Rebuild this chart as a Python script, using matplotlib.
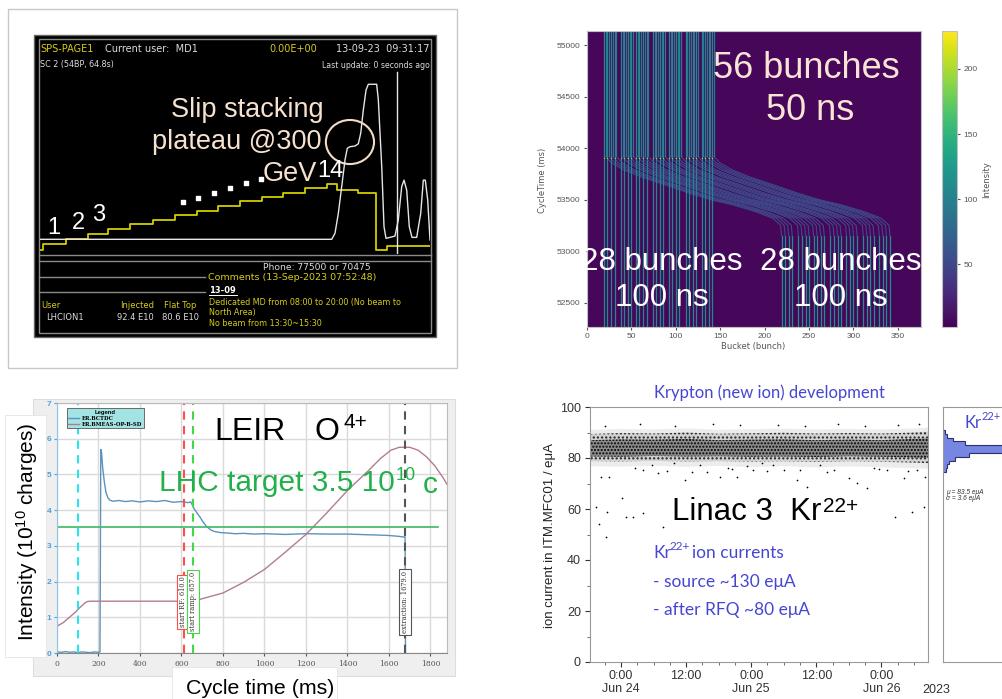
import numpy as np
import matplotlib
matplotlib.use('Agg')
import matplotlib.pyplot as plt
from matplotlib.patches import Rectangle, Ellipse
from matplotlib import cm, colors

plt.rcParams['font.family'] = ['Liberation Sans', 'DejaVu Sans']
plt.rcParams['mathtext.fontset'] = 'custom'
plt.rcParams['mathtext.rm'] = 'Liberation Sans'
plt.rcParams['mathtext.it'] = 'Liberation Sans:italic'

W, H = 1003, 699

# --- SPS page 1: intensity staircase (E10 charges) and momentum (GeV/c)
sps_t = [0, 0.55, 4.27, 8.03, 11.35, 14.95, 18.73, 22.43, 26.04, 29.63, 33.23,
         36.84, 40.43, 44.03, 47.64, 49.3, 52.89, 55.83, 57.6, 64.8]
sps_int = [5.3, 12.9, 19.5, 26.1, 32.8, 39.4, 45.1, 51.7, 57.0, 63.6, 70.3,
           76.0, 81.3, 87.1, 92.4, 84.9, 81.3, 5.3, 11.0, 11.0]
mom_t = [0, 48.47, 49.02, 49.57, 50.13, 50.68, 51.06, 51.51, 52.34, 52.89, 53.29,
         53.72, 54.17, 54.55, 55.94, 56.21, 56.78, 57.16, 57.49, 58.15, 58.98,
         59.53, 60.10, 60.48, 60.93, 61.36, 61.81, 62.59, 63.26, 63.69, 64.02,
         64.42, 64.8]
mom_p = [14, 14, 33, 95, 178, 261, 297, 302, 304, 311, 344, 416, 478, 496, 496,
         449, 240, 53, 17, 20, 24, 74, 178, 198, 167, 53, 20, 20, 95, 198, 198,
         136, 12]
dots_t = [23.76, 26.25, 28.91, 31.57, 34.23, 36.72]
dots_v = [69.0, 74.3, 80.9, 87.5, 94.1, 99.5]
plateau_t, plateau_p = 51.5, 316.5
scope_line_t = 59.3

# --- slip stacking heatmap
group_start = [19, 38, 55, 74, 92, 111, 129]
bunch_offset = [0, 4, 8, 12]
slip_t = [52264, 53150, 53250, 53320, 53380, 53450, 53500, 53560, 53640, 53720,
          53790, 53860, 53920, 55136]
slip_shift = [200, 200, 199, 190, 172, 145, 120, 97, 70, 42, 22, 8, 2, 2]

# --- LEIR O4+ cycle
bct_t = [0, 20, 40, 60, 80, 100, 120, 140, 160, 180, 200, 207, 209, 211, 215,
         220, 228, 236, 245, 255, 270, 300, 330, 360, 400, 440, 480, 520, 560,
         600, 630, 645, 652, 660, 675, 690, 705, 720, 740, 760, 790, 820, 860,
         900, 950, 1000, 1100, 1200, 1300, 1400, 1500, 1560, 1600, 1640, 1670,
         1678, 1680]
bct_v = [0.03, 0.02, 0.04, 0.02, 0.03, 0.01, 0.03, 0.02, 0.01, 0.03, 0.02, 0.03,
         2.5, 5.7, 5.6, 5.2, 4.8, 4.5, 4.35, 4.28, 4.25, 4.27, 4.24, 4.26, 4.23,
         4.26, 4.24, 4.27, 4.22, 4.24, 4.21, 4.23, 4.15, 4.05, 3.92, 3.8, 3.66,
         3.55, 3.45, 3.40, 3.37, 3.36, 3.34, 3.35, 3.33, 3.34, 3.32, 3.34, 3.33,
         3.33, 3.31, 3.30, 3.29, 3.27, 3.25, 3.24, 0.0]
bmeas_t = [0, 30, 60, 90, 110, 130, 145, 160, 200, 400, 600, 657, 700, 800, 900,
           1000, 1100, 1200, 1300, 1400, 1500, 1560, 1610, 1650, 1700, 1740,
           1780, 1820, 1860, 1880]
bmeas_v = [0.75, 0.85, 1.0, 1.15, 1.27, 1.38, 1.44, 1.45, 1.45, 1.45, 1.45, 1.45,
           1.52, 1.68, 1.98, 2.34, 2.82, 3.32, 3.92, 4.55, 5.1, 5.45, 5.68, 5.76,
           5.76, 5.68, 5.5, 5.25, 4.92, 4.72]
lhc_target = 3.52
markers_t = [100, 610, 657, 1679]
marker_labels = ['', 'start RF: 610.0', 'start ramp: 657.0', 'extraction: 1679.0']

# --- Linac 3 Kr22+ current (hours from Jun 24 0:00)
band_h = [-5.72, 0, 6, 12, 18, 24, 30, 36, 42, 48, 54, 56.6]
core_lo = [80.6, 80.5, 80.8, 80.6, 80.7, 80.5, 80.6, 80.4, 80.7, 80.5, 80.2, 80.0]
core_hi = [87.0, 87.3, 87.2, 87.5, 87.0, 87.2, 87.3, 87.0, 87.2, 87.0, 87.5, 87.8]
outer_lo = [78.8, 78.6, 78.9, 78.6, 78.8, 78.5, 78.7, 78.4, 78.7, 78.5, 78.2, 78.0]
outer_hi = [89.4, 89.8, 89.6, 90.0, 89.5, 89.7, 89.9, 89.6, 89.8, 89.6, 90.0, 90.3]
halo_lo = [76.8, 76.6, 77.0, 76.5, 76.9, 76.4, 76.8, 76.3, 76.7, 76.4, 76.0, 75.8]
halo_hi = [91.0, 91.4, 91.2, 91.6, 91.1, 91.3, 91.5, 91.2, 91.4, 91.2, 91.6, 91.9]
out_h = [-4.6, -4.0, -2.8, -2.5, -3.6, -2.3, 0.1, 1.0, 2.3, 4.1, 7.8, 2.6, 4.1, 5.7,
         6.9, 9.7, 11.8, 14.6, 15.8, 18.3, 19.8, 21.4, 23.2, 24.4, 26.0, 28.1,
         30.0, 32.4, 34.3, 36.7, 39.2, 42.0, 43.5, 45.4, 46.6, 49.0, 50.6, 52.1,
         53.7, 54.6, 55.8, 56.1, -3.0, 3.5, 10.0, 17.0, 22.0, 29.0, 34.0, 40.0,
         45.0, 51.0, 55.0, 8.5, 13.0, 20.5, 27.0, 33.0, 38.0, 47.5, 53.0]
out_v = [60.9, 54.1, 49.1, 59.0, 72.7, 72.7, 64.2, 57.0, 57.0, 58.3, 53.1, 76.0,
         75.4, 77.3, 74.0, 78.0, 71.4, 77.3, 74.7, 72.7, 76.0, 72.7, 76.7, 75.4,
         78.0, 77.3, 75.4, 71.4, 68.8, 77.3, 75.4, 72.1, 70.1, 68.2, 76.0, 75.4,
         57.0, 72.1, 59.0, 75.4, 60.9, 72.7, 92.5, 93.2, 92.6, 93.4, 92.8, 93.0,
         92.6, 93.3, 92.7, 92.9, 93.5, 75.0, 74.5, 75.6, 74.8, 75.2, 74.4, 75.5,
         74.9]
hist_edges = [74.5, 76, 77.5, 79, 80.5, 82, 83.5, 85, 86.5, 88, 89.5, 91]
hist_counts = [3, 4, 6, 12, 26, 72, 68, 22, 10, 4, 2]


def px_box(x0, y0, x1, y1):
    return [x0 / W, 1 - y1 / H, (x1 - x0) / W, (y1 - y0) / H]


fig = plt.figure(figsize=(W / 100, H / 100), dpi=100)
under = fig.add_axes([0, 0, 1, 1], zorder=0)
under.set_xlim(0, W)
under.set_ylim(H, 0)
under.axis('off')
over = fig.add_axes([0, 0, 1, 1], zorder=20)
over.set_xlim(0, W)
over.set_ylim(H, 0)
over.axis('off')

# ================= panel 1: SPS page =================
under.add_patch(Rectangle((8, 9), 449, 359, fc='white', ec='#c8c8c8', lw=1))
under.add_patch(Rectangle((34, 35), 402, 302, fc='black', ec='#666666', lw=1, zorder=2))
under.add_patch(Rectangle((39, 39), 392, 294, fc='none', ec='#8a8a8a', lw=1, zorder=3))
for yy in [254.5, 261]:
    under.plot([39, 431], [yy, yy], color='#8a8a8a', lw=1, zorder=3)
for yy in [276.5, 291.5]:
    under.plot([39, 205], [yy, yy], color='#8a8a8a', lw=1, zorder=3)

sps = fig.add_axes(px_box(40, 70, 430, 254), zorder=5)
sps.axis('off')
sps.set_xlim(0, 64.8)
sps.set_ylim(0, 244)
sps.plot(sps_t, sps_int, drawstyle='steps-post', color='#d2cc00', lw=1.3)
sps.scatter(dots_t, dots_v, marker='s', s=9, color='white', zorder=5)

spm = fig.add_axes(px_box(40, 70, 430, 254), zorder=6)
spm.axis('off')
spm.set_xlim(0, 64.8)
spm.set_ylim(-31.7, 540.4)
spm.plot(mom_t, mom_p, color='#e6e6e6', lw=1.0)
spm.axvline(scope_line_t, ymin=0, ymax=0.99, color='#e6e6e6', lw=1.0)
spm.add_patch(Ellipse((plateau_t, plateau_p), 8.0, 137, fc='none', ec='#f3dcc6', lw=1.5))

yel = '#d6cc1a'
gry = '#dcdcdc'
mono = 'DejaVu Sans'
over.text(40, 49, 'SPS-PAGE1', color=yel, fontsize=7, family=mono, va='center')
over.text(105, 49, 'Current user:  MD1', color=gry, fontsize=7, family=mono, va='center')
over.text(269, 49, '0.00E+00', color=yel, fontsize=7, family=mono, va='center')
over.text(430, 49, '13-09-23  09:31:17', color=gry, fontsize=7, family=mono,
          va='center', ha='right')
over.text(40, 65, 'SC 2 (54BP, 64.8s)', color=gry, fontsize=5.8, family=mono, va='center')
over.text(430, 65, 'Last update: 0 seconds ago', color=gry, fontsize=5.6, family=mono,
          va='center', ha='right')
over.text(317, 267, 'Phone: 77500 or 70475', color=gry, fontsize=6.6, family=mono,
          va='center', ha='center')
over.text(208, 278, 'Comments (13-Sep-2023 07:52:48)', color=yel, fontsize=6.8,
          family=mono, va='center')
over.text(209, 290.5, '13-09', color='white', fontsize=6, family=mono, va='center',
          weight='bold')
over.plot([209, 237], [295, 295], color='white', lw=0.7)
for yy, s in [(302, 'Dedicated MD from 08:00 to 20:00 (No beam to'),
              (312.5, 'North Area)'), (323, 'No beam from 13:30~15:30')]:
    over.text(209, yy, s, color=yel, fontsize=5.8, family=mono, va='center')
over.text(41, 306, 'User', color=yel, fontsize=6, family=mono, va='center')
over.text(120, 306, 'Injected', color=yel, fontsize=6, family=mono, va='center')
over.text(164, 306, 'Flat Top', color=yel, fontsize=6, family=mono, va='center')
over.text(46, 318, 'LHCION1', color=gry, fontsize=6, family=mono, va='center')
over.text(117, 318, '92.4 E10', color=gry, fontsize=6, family=mono, va='center')
over.text(162, 318, '80.6 E10', color=gry, fontsize=6, family=mono, va='center')

cream = '#f6e2cf'
over.text(247, 110, 'Slip stacking', color=cream, fontsize=19.5, ha='center', va='center')
over.text(237, 142, 'plateau @300', color=cream, fontsize=19.5, ha='center', va='center')
over.text(290, 174, 'GeV', color=cream, fontsize=19.5, ha='center', va='center')
over.text(330, 171, '14', color='white', fontsize=17, ha='center', va='center')
for xx, yy, s in [(54, 228, '1'), (78, 223, '2'), (99, 215, '3')]:
    over.text(xx, yy, s, color='white', fontsize=17, ha='center', va='center')

# ================= panel 2: slip stacking heatmap =================
cmap = plt.get_cmap('viridis')
norm = colors.Normalize(2, 229)
hm = fig.add_axes(px_box(587, 31, 921, 327), zorder=5)
hm.set_facecolor(cmap(norm(6)))
hm.set_xlim(0, 376)
hm.set_ylim(52264, 55136)
bunch_x0 = [g + b for g in group_start for b in bunch_offset]
for x0 in bunch_x0:
    hm.plot([x0, x0], [52264, 55136], color=cmap(norm(108)), lw=0.9)
    xs = [x0 + s for s in slip_shift]
    hm.plot(xs[:2], slip_t[:2], color=cmap(norm(112)), lw=0.9)
    hm.plot(xs[1:13], slip_t[1:13], color=cmap(norm(52)), lw=0.8)
    hm.plot(xs[12:], slip_t[12:], color=cmap(norm(92)), lw=0.9)
hm.scatter(bunch_x0, [53905] * len(bunch_x0), s=0.8, color=cmap(norm(200)), lw=0,
           zorder=5)
hm.set_xticks(range(0, 351, 50))
hm.set_yticks(range(52500, 55001, 500))
hm.tick_params(labelsize=6, colors='#555555', length=2.5, pad=2)
for sp in hm.spines.values():
    sp.set_color('#c0c0c0')
cax = fig.add_axes(px_box(942, 31, 957, 327), zorder=5)
cb = fig.colorbar(cm.ScalarMappable(norm=norm, cmap=cmap), cax=cax)
cb.set_ticks([50, 100, 150, 200])
cb.ax.tick_params(labelsize=6, colors='#555555', length=2.5, pad=2)
cb.outline.set_edgecolor('#c0c0c0')
over.text(987, 180, 'Intensity', rotation=90, fontsize=6, color='#555555',
          family='DejaVu Sans', ha='center', va='center')
over.text(543, 180, 'CycleTime (ms)', rotation=90, fontsize=6, color='#555555',
          family='DejaVu Sans', ha='center', va='center')
over.text(753, 347, 'Bucket (bunch)', fontsize=6, color='#555555',
          family='DejaVu Sans', ha='center', va='center')
over.text(806, 68, '56 bunches', color='#f8e4d4', fontsize=26, ha='center', va='center')
over.text(810, 110, '50 ns', color='#f8e4d4', fontsize=26, ha='center', va='center')
for xx in [662, 841]:
    over.text(xx, 262, '28 bunches', color='white', fontsize=22.5, ha='center', va='center')
    over.text(xx, 298, '100 ns', color='white', fontsize=22.5, ha='center', va='center')

# ================= panel 3: LEIR =================
under.add_patch(Rectangle((33, 399), 422, 277, fc='#efefef', ec='#dddddd', lw=0.8, zorder=1))
under.add_patch(Rectangle((5, 415), 41, 242, fc='white', ec='#e4e4e4', lw=0.6, zorder=2))
under.add_patch(Rectangle((172, 667), 165, 32, fc='white', ec='#e4e4e4', lw=0.6, zorder=2))

leir = fig.add_axes(px_box(57, 403, 447, 653), zorder=5)
leir.set_facecolor('white')
leir.set_xlim(0, 1880)
leir.set_ylim(0, 7)
leir.grid(True, color='#dadada', lw=1.0)
leir.set_axisbelow(True)
leir.set_xticks(range(0, 1801, 200))
leir.set_yticks(range(0, 8))
leir.tick_params(axis='x', labelsize=5.5, colors='#555555', length=2, pad=3)
leir.tick_params(axis='y', labelsize=6, colors='#4a9fdc', length=2, pad=2)
for lab in leir.get_xticklabels():
    lab.set_family('DejaVu Serif')
for lab in leir.get_yticklabels():
    lab.set_weight('bold')
leir.spines['left'].set_color('#8cc6ea')
leir.spines['bottom'].set_color('#888888')
leir.spines['top'].set_color('#bbbbbb')
leir.spines['right'].set_color('#bbbbbb')
bct_line, = leir.plot(bct_t, bct_v, color='#5b93bd', lw=1.0)
bm_line, = leir.plot(bmeas_t, bmeas_v, color='#b27d8e', lw=1.0)
leir.plot([0, 1835], [lhc_target, lhc_target], color='#3cb863', lw=1.2)
mcols = ['#28e4f0', '#ff4d4d', '#44d844', '#555555']
for xm, c, lab in zip(markers_t, mcols, marker_labels):
    leir.axvline(xm, color=c, lw=1.5, ls=(0, (4, 3)))
    if lab:
        leir.text(xm - 2, 1.43, lab, rotation=90, ha='center', va='center',
                  fontsize=4.8, family='DejaVu Serif', color='#333333',
                  bbox=dict(boxstyle='square,pad=0.3', fc='white', ec=c, lw=0.8))
lg = leir.legend([bct_line, bm_line], ['ER.BCTDC', 'ER.BMEAS-OP-B-SD'],
                 title='Legend', loc='upper left', bbox_to_anchor=(0.018, 0.99),
                 fontsize=3.8, title_fontsize=4.2, facecolor='#a4e3e3',
                 edgecolor='#555555', framealpha=1, fancybox=False,
                 handlelength=2, borderpad=0.3, labelspacing=0.2, handletextpad=0.6)
lg.get_frame().set_linewidth(0.6)
for t in lg.get_texts():
    t.set_family('DejaVu Serif')
    t.set_weight('bold')
lg.get_title().set_weight('bold')

over.text(250, 432, 'LEIR', fontsize=23, ha='center', va='center', color='black')
over.text(315, 432, 'O', fontsize=23, ha='left', va='center', color='black')
over.text(344, 423, '4+', fontsize=15, ha='left', va='center', color='black')
green = '#22b04b'
over.text(159, 483, 'LHC target 3.5 10', fontsize=21.5, ha='left', va='center', color=green)
over.text(396, 476, '10', fontsize=13, ha='left', va='center', color=green)
over.text(423, 485, 'c', fontsize=21.5, ha='left', va='center', color=green)
over.text(260, 688, 'Cycle time (ms)', fontsize=15.4, ha='center', va='center')
over.text(27, 532, 'Intensity (10$^{10}$ charges)', fontsize=15, rotation=90,
          ha='center', va='center')

# ================= panel 4: Linac 3 =================
lin = fig.add_axes(px_box(590, 407, 928, 662), zorder=5)
lin.set_xlim(-5.72, 56.6)
lin.set_ylim(0, 100)
lin.fill_between(band_h, halo_lo, halo_hi, facecolor='#ececec', lw=0)
lin.fill_between(band_h, outer_lo, outer_hi, facecolor='#d2d2d2', edgecolor='#222222',
                 hatch='....', lw=0)
lin.fill_between(band_h, core_lo, core_hi, facecolor='#8c8c8c', edgecolor='black',
                 hatch='.....', lw=0)
lin.scatter(out_h, out_v, s=1.5, color='black', lw=0)
lin.set_xticks([0, 12, 24, 36, 48])
lin.set_xticklabels(['0:00\nJun 24', '12:00', '0:00\nJun 25', '12:00', '0:00\nJun 26'])
lin.set_xticks(np.arange(-3, 56, 3), minor=True)
lin.set_yticks(range(0, 101, 20))
lin.set_yticks(range(10, 100, 20), minor=True)
lin.tick_params(which='major', labelsize=9, colors='#333333', length=3.5, pad=3,
                direction='out')
lin.tick_params(which='minor', length=2, colors='#555555', direction='out')
lin.tick_params(axis='x', which='major', pad=2)
for sp in lin.spines.values():
    sp.set_color('#999999')

hist = fig.add_axes(px_box(943, 407, 1043, 662), zorder=5)
hist.set_xlim(0, 100)
hist.set_ylim(0, 100)
hist.stairs(hist_counts, hist_edges, orientation='horizontal', fill=True,
            color='#7686e2')
hist.stairs(hist_counts, hist_edges, orientation='horizontal', color='#2c3270', lw=0.8)
hist.set_xticks([])
hist.set_yticks([])
for sp in hist.spines.values():
    sp.set_color('#999999')

blue = '#4646d2'
over.text(769, 393, 'Krypton (new ion) development', fontsize=12, family='Lato',
          color=blue, ha='center', va='center')
over.text(550, 535, 'ion current in ITM.MFC01 / e\u03bcA', fontsize=9.5, rotation=90,
          ha='center', va='center', color='#222222')
over.text(936, 690, '2023', fontsize=9, color='#333333', ha='center', va='center')
over.text(672, 512, 'Linac 3  Kr', fontsize=22.5, ha='left', va='center', color='black')
over.text(823, 506, '22+', fontsize=15, ha='left', va='center', color='black')
over.text(653, 553, 'Kr', fontsize=12.5, family='Lato', color=blue, ha='left', va='center')
over.text(670, 547, '22+', fontsize=8.5, family='Lato', color=blue, ha='left', va='center')
over.text(692, 553, 'ion currents', fontsize=12.5, family='Lato', color=blue,
          ha='left', va='center')
over.text(653, 582, '- source ~130 e\u03bcA', fontsize=12.5, family='Lato', color=blue,
          ha='left', va='center')
over.text(653, 610, '- after RFQ ~80 e\u03bcA', fontsize=12.5, family='Lato', color=blue,
          ha='left', va='center')
over.text(965, 423, 'Kr', fontsize=12, family='Lato', color=blue, ha='left', va='center')
over.text(982, 417, '22+', fontsize=8, family='Lato', color=blue, ha='left', va='center')
over.text(946, 492, '\u03bc = 83.5 e\u03bcA', fontsize=4.8, style='italic', color='#333333',
          ha='left', va='center')
over.text(946, 499, '\u03c3 = 3.6 e\u03bcA', fontsize=4.8, style='italic', color='#333333',
          ha='left', va='center')

fig.savefig('out.png', dpi=100)
